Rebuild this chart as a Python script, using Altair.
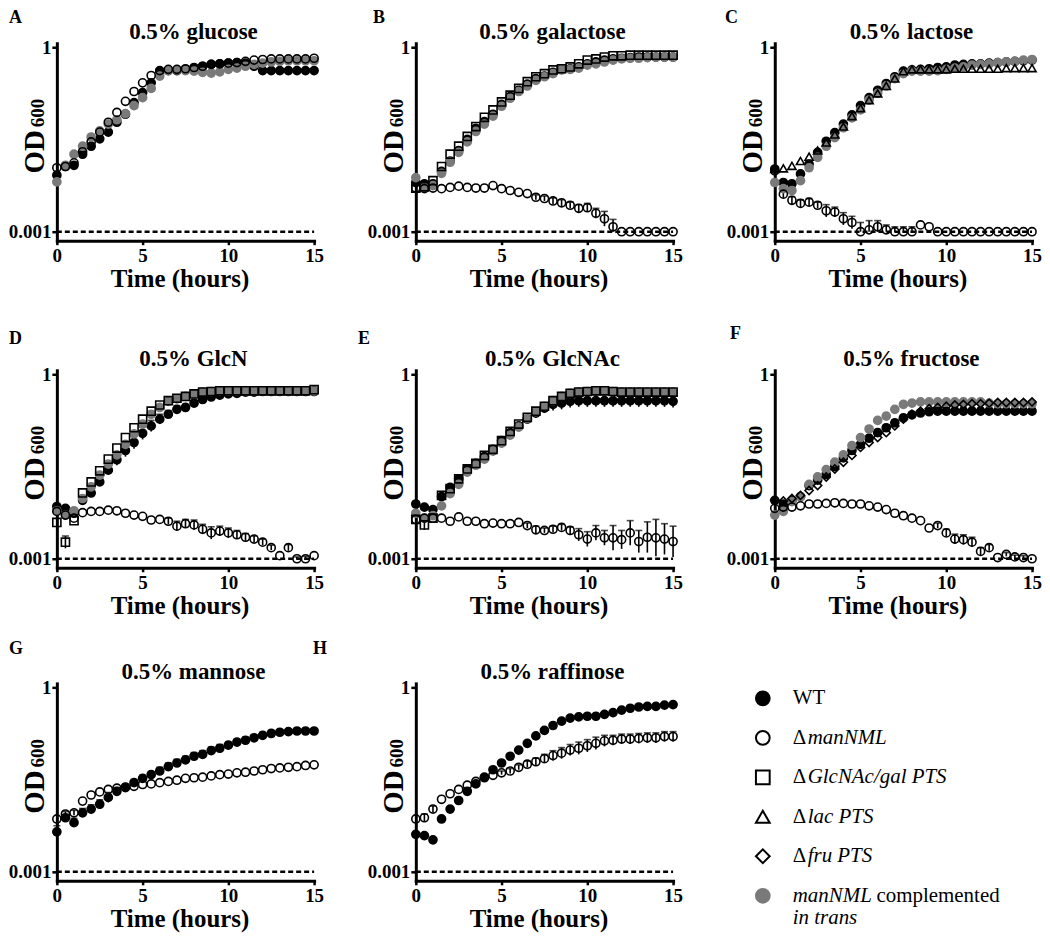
import altair as alt
import pandas as pd

FONT = "Liberation Serif"

hours = [0, 0.5, 1, 1.5, 2, 2.5, 3, 3.5, 4, 4.5, 5, 5.5, 6, 6.5, 7, 7.5,
         8, 8.5, 9, 9.5, 10, 10.5, 11, 11.5, 12, 12.5, 13, 13.5, 14, 14.5, 15]
detection_limit = 0.001
x_ticks = [0, 5, 10, 15]
y_ticks = [0.001, 1]

# ---- values, as log10(OD600) ----
# A glucose
glc_wt = [-2.08, -1.94, -1.92, -1.74, -1.61, -1.49, -1.38, -1.22, -1.09, -0.90, -0.74, -0.58, -0.39, -0.38, -0.38, -0.36,
          -0.34, -0.31, -0.28, -0.27, -0.26, -0.25, -0.26, -0.31, -0.38, -0.38, -0.38, -0.38, -0.38, -0.38, -0.38]
glc_man = [-1.96, -1.94, -1.88, -1.70, -1.54, -1.38, -1.22, -1.06, -0.88, -0.72, -0.58, -0.46, -0.38, -0.36, -0.36, -0.35,
           -0.33, -0.31, -0.28, -0.27, -0.26, -0.25, -0.23, -0.21, -0.20, -0.19, -0.19, -0.19, -0.19, -0.19, -0.18]
glc_comp = [-2.19, -1.92, -1.74, -1.61, -1.46, -1.36, -1.25, -1.18, -1.08, -0.95, -0.82, -0.67, -0.47, -0.38, -0.37, -0.38,
            -0.39, -0.41, -0.42, -0.40, -0.36, -0.34, -0.31, -0.28, -0.26, -0.24, -0.23, -0.22, -0.22, -0.22, -0.22]
# B galactose
gal_wt = [-2.20, -2.22, -2.22, -2.02, -1.85, -1.68, -1.50, -1.32, -1.21, -1.09, -0.93, -0.80, -0.70, -0.60, -0.51, -0.47,
          -0.41, -0.36, -0.35, -0.32, -0.27, -0.24, -0.21, -0.19, -0.18, -0.17, -0.16, -0.16, -0.16, -0.16, -0.16]
gal_man = [-2.29, -2.30, -2.29, -2.30, -2.28, -2.26, -2.28, -2.29, -2.29, -2.25, -2.30, -2.33, -2.36, -2.38, -2.44, -2.46,
           -2.50, -2.53, -2.57, -2.62, -2.61, -2.70, -2.79, -2.92, -3.00, -3.00, -3.00, -3.00, -3.00, -3.00, -3.00]
gal_man_err = {7: 0.04, 7.5: 0.04, 8: 0.05, 8.5: 0.05, 9: 0.05, 9.5: 0.06, 10: 0.07, 10.5: 0.08, 11: 0.12, 11.5: 0.12}
gal_gal = [-2.29, -2.27, -2.17, -1.94, -1.74, -1.61, -1.45, -1.29, -1.14, -1.02, -0.89, -0.78, -0.67, -0.56, -0.48, -0.43,
           -0.37, -0.35, -0.32, -0.27, -0.21, -0.19, -0.16, -0.14, -0.14, -0.13, -0.13, -0.13, -0.13, -0.13, -0.13]
gal_comp = [-2.12, -2.28, -2.25, -2.05, -1.87, -1.71, -1.54, -1.37, -1.25, -1.12, -0.96, -0.83, -0.72, -0.63, -0.54, -0.48,
            -0.43, -0.37, -0.36, -0.34, -0.29, -0.27, -0.24, -0.21, -0.19, -0.18, -0.18, -0.17, -0.16, -0.16, -0.16]
# C lactose
lac_wt = [-1.98, -2.20, -2.22, -2.06, -1.90, -1.71, -1.53, -1.39, -1.25, -1.10, -0.95, -0.82, -0.70, -0.59, -0.48, -0.39,
          -0.37, -0.36, -0.35, -0.33, -0.32, -0.29, -0.28, -0.27, -0.27, -0.26, -0.25, -0.24, -0.23, -0.22, -0.21]
lac_man = [-2.01, -2.39, -2.49, -2.54, -2.52, -2.57, -2.66, -2.68, -2.79, -2.85, -3.00, -2.97, -2.92, -2.97, -3.00, -3.00,
           -3.00, -2.89, -2.92, -3.00, -3.00, -3.00, -3.00, -3.00, -3.00, -3.00, -3.00, -3.00, -3.00, -3.00, -3.00]
lac_man_err = {0.5: 0.06, 1: 0.06, 1.5: 0.06, 2: 0.06, 2.5: 0.05, 3: 0.10, 3.5: 0.08, 4: 0.10, 4.5: 0.10, 5: 0.15,
               5.5: 0.15, 6: 0.10, 6.5: 0.08, 7: 0.08, 7.5: 0.08, 8: 0.08}
lac_lac = [-1.98, -1.97, -1.93, -1.85, -1.78, -1.68, -1.55, -1.42, -1.29, -1.12, -0.99, -0.86, -0.75, -0.63, -0.51, -0.39,
           -0.36, -0.36, -0.36, -0.36, -0.36, -0.35, -0.35, -0.35, -0.35, -0.35, -0.35, -0.34, -0.34, -0.34, -0.34]
lac_comp = [-2.20, -2.30, -2.33, -2.17, -1.96, -1.79, -1.61, -1.47, -1.31, -1.15, -1.02, -0.86, -0.75, -0.63, -0.51, -0.43,
            -0.39, -0.39, -0.39, -0.38, -0.36, -0.34, -0.32, -0.29, -0.28, -0.27, -0.25, -0.24, -0.23, -0.21, -0.20]
# D GlcN
glcn_wt = [-2.15, -2.18, -2.26, -2.05, -1.93, -1.75, -1.56, -1.39, -1.24, -1.11, -0.96, -0.84, -0.73, -0.65, -0.57, -0.54,
           -0.47, -0.41, -0.37, -0.34, -0.32, -0.31, -0.29, -0.29, -0.28, -0.28, -0.28, -0.28, -0.28, -0.28, -0.28]
glcn_wt_err = {2: 0.05, 2.5: 0.06, 3: 0.07, 3.5: 0.09, 4: 0.10, 4.5: 0.10, 5: 0.10, 5.5: 0.09, 6: 0.08, 6.5: 0.06,
               7: 0.06, 7.5: 0.05, 8: 0.05}
glcn_man = [-2.23, -2.29, -2.34, -2.25, -2.23, -2.23, -2.21, -2.22, -2.26, -2.29, -2.31, -2.37, -2.36, -2.39, -2.47, -2.43,
            -2.45, -2.52, -2.58, -2.55, -2.58, -2.61, -2.65, -2.68, -2.73, -2.82, -2.95, -2.82, -3.00, -3.00, -2.95]
glcn_man_err = {6.5: 0.05, 7: 0.08, 7.5: 0.07, 8: 0.08, 8.5: 0.08, 9: 0.10, 9.5: 0.08, 10: 0.08, 10.5: 0.07, 11: 0.06,
                11.5: 0.05, 12: 0.05, 12.5: 0.04, 13.5: 0.05, 14: 0.03, 14.5: 0.04}
glcn_gal = [-2.41, -2.73, -2.38, -1.93, -1.75, -1.57, -1.38, -1.20, -1.03, -0.87, -0.73, -0.60, -0.50, -0.43, -0.39, -0.36,
            -0.32, -0.29, -0.28, -0.27, -0.27, -0.27, -0.27, -0.27, -0.27, -0.27, -0.27, -0.27, -0.27, -0.27, -0.25]
glcn_gal_err = {0.5: 0.10}
glcn_comp = [-2.22, -2.29, -2.22, -2.02, -1.83, -1.64, -1.46, -1.31, -1.14, -0.97, -0.81, -0.65, -0.54, -0.44, -0.40, -0.36,
             -0.32, -0.29, -0.28, -0.27, -0.27, -0.27, -0.27, -0.27, -0.27, -0.27, -0.27, -0.27, -0.27, -0.27, -0.27]
# E GlcNAc
glcnac_wt = [-2.11, -2.16, -2.20, -1.99, -1.84, -1.70, -1.54, -1.45, -1.34, -1.22, -1.08, -0.95, -0.84, -0.73, -0.63, -0.55,
             -0.49, -0.47, -0.44, -0.43, -0.43, -0.43, -0.43, -0.43, -0.43, -0.43, -0.43, -0.43, -0.43, -0.43, -0.44]
glcnac_wt_err = {0: 0.04, 0.5: 0.03, 1: 0.04, 6.5: 0.05, 7: 0.08, 7.5: 0.08, 8: 0.10, 8.5: 0.10, 9: 0.10, 9.5: 0.10,
                 10: 0.10, 10.5: 0.10, 11: 0.10, 11.5: 0.10, 12: 0.10, 12.5: 0.10, 13: 0.10, 13.5: 0.10, 14: 0.10,
                 14.5: 0.10, 15: 0.10}
glcnac_man = [-2.36, -2.34, -2.34, -2.34, -2.39, -2.32, -2.39, -2.39, -2.43, -2.42, -2.43, -2.43, -2.41, -2.46, -2.53, -2.54,
              -2.52, -2.49, -2.54, -2.61, -2.68, -2.58, -2.66, -2.66, -2.69, -2.58, -2.72, -2.65, -2.66, -2.68, -2.72]
glcnac_man_err = {6.5: 0.04, 7: 0.06, 7.5: 0.04, 8: 0.05, 8.5: 0.05, 9: 0.06, 9.5: 0.10, 10: 0.12, 10.5: 0.12, 11: 0.12,
                  11.5: 0.20, 12: 0.15, 12.5: 0.20, 13: 0.18, 13.5: 0.25, 14: 0.30, 14.5: 0.25, 15: 0.25}
glcnac_gal = [-2.36, -2.45, -2.34, -1.97, -1.86, -1.70, -1.54, -1.45, -1.32, -1.22, -1.08, -0.93, -0.81, -0.70, -0.60, -0.52,
              -0.43, -0.36, -0.31, -0.29, -0.28, -0.27, -0.27, -0.28, -0.29, -0.29, -0.29, -0.29, -0.29, -0.29, -0.29]
glcnac_gal_err = {0.5: 0.08}
glcnac_comp = [-2.26, -2.34, -2.30, -2.14, -1.94, -1.79, -1.59, -1.48, -1.38, -1.25, -1.12, -0.99, -0.86, -0.72, -0.61, -0.52,
               -0.43, -0.36, -0.31, -0.29, -0.28, -0.27, -0.27, -0.28, -0.29, -0.29, -0.29, -0.29, -0.29, -0.29, -0.29]
glcnac_comp_err = {4.5: 0.05, 5: 0.05, 5.5: 0.05, 6: 0.05, 6.5: 0.05, 7: 0.05, 7.5: 0.05, 8: 0.05}
# F fructose
fru_wt = [-2.05, -2.11, -2.05, -1.99, -1.81, -1.72, -1.63, -1.50, -1.36, -1.24, -1.14, -1.04, -0.95, -0.87, -0.79, -0.71,
          -0.66, -0.63, -0.61, -0.60, -0.60, -0.60, -0.60, -0.60, -0.60, -0.60, -0.60, -0.60, -0.60, -0.60, -0.60]
fru_wt_err = {6: 0.05, 6.5: 0.05, 7: 0.05, 7.5: 0.05, 8: 0.05, 8.5: 0.05, 9: 0.05, 9.5: 0.05, 10: 0.05, 10.5: 0.05,
              11: 0.05, 11.5: 0.05, 12: 0.05, 12.5: 0.05, 13: 0.05, 13.5: 0.05, 14: 0.05, 14.5: 0.05, 15: 0.05}
fru_man = [-2.18, -2.16, -2.16, -2.14, -2.11, -2.11, -2.10, -2.09, -2.10, -2.11, -2.11, -2.14, -2.16, -2.20, -2.26, -2.30,
           -2.34, -2.38, -2.50, -2.46, -2.58, -2.68, -2.69, -2.73, -2.88, -2.82, -2.98, -2.93, -2.97, -2.98, -3.00]
fru_man_err = {9.5: 0.04, 10: 0.06, 10.5: 0.08, 11: 0.08, 11.5: 0.08, 12: 0.06, 12.5: 0.05, 13.5: 0.03, 14: 0.03,
               14.5: 0.03}
fru_fru = [-2.05, -2.06, -2.02, -1.97, -1.89, -1.81, -1.67, -1.54, -1.43, -1.32, -1.19, -1.11, -1.03, -0.95, -0.84, -0.73,
           -0.65, -0.60, -0.56, -0.54, -0.52, -0.50, -0.49, -0.48, -0.48, -0.47, -0.46, -0.46, -0.46, -0.46, -0.45]
fru_comp = [-2.29, -2.23, -2.07, -1.99, -1.79, -1.67, -1.55, -1.43, -1.31, -1.16, -1.03, -0.89, -0.75, -0.68, -0.57, -0.49,
            -0.47, -0.45, -0.45, -0.45, -0.45, -0.45, -0.45, -0.45, -0.45, -0.47, -0.48, -0.48, -0.48, -0.48, -0.48]
# G mannose
mnn_wt = [-2.35, -2.12, -2.20, -2.04, -1.98, -1.90, -1.79, -1.69, -1.63, -1.55, -1.48, -1.42, -1.36, -1.29, -1.23, -1.18,
          -1.12, -1.09, -1.03, -0.99, -0.94, -0.89, -0.86, -0.82, -0.78, -0.75, -0.73, -0.72, -0.71, -0.71, -0.71]
mnn_wt_err = [0.10, 0.05, 0.07, 0.07, 0.07, 0.07, 0.08, 0.06, 0.05, 0.05, 0.05, 0.05, 0.06, 0.06, 0.06, 0.06,
              0.06, 0.06, 0.06, 0.06, 0.05, 0.05, 0.05, 0.05, 0.05, 0.05, 0.04, 0.03, 0.03, 0.03, 0.03]
mnn_man = [-2.14, -2.06, -2.04, -1.85, -1.75, -1.70, -1.66, -1.64, -1.62, -1.61, -1.58, -1.57, -1.55, -1.53, -1.51, -1.48,
           -1.47, -1.46, -1.44, -1.42, -1.41, -1.39, -1.38, -1.36, -1.34, -1.32, -1.31, -1.30, -1.29, -1.27, -1.26]
mnn_man_err = {0.5: 0.04, 1: 0.04}
# H raffinose
raf_wt = [-2.39, -2.41, -2.48, -2.14, -1.98, -1.84, -1.69, -1.57, -1.46, -1.34, -1.23, -1.12, -1.02, -0.91, -0.79, -0.70,
          -0.62, -0.55, -0.50, -0.48, -0.47, -0.47, -0.44, -0.41, -0.37, -0.34, -0.32, -0.31, -0.31, -0.29, -0.28]
raf_man = [-2.14, -2.12, -1.98, -1.82, -1.73, -1.66, -1.59, -1.53, -1.47, -1.43, -1.39, -1.36, -1.30, -1.25, -1.21, -1.16,
           -1.11, -1.07, -1.02, -0.99, -0.95, -0.91, -0.87, -0.86, -0.84, -0.84, -0.83, -0.82, -0.82, -0.80, -0.80]
raf_man_err = {0.5: 0.06, 1: 0.05, 5: 0.03, 5.5: 0.04, 6: 0.04, 6.5: 0.05, 7: 0.06, 7.5: 0.07, 8: 0.08, 8.5: 0.09,
               9: 0.09, 9.5: 0.10, 10: 0.10, 10.5: 0.10, 11: 0.09, 11.5: 0.08, 12: 0.08, 12.5: 0.08, 13: 0.08,
               13.5: 0.08, 14: 0.08, 14.5: 0.08, 15: 0.08}

# ---- strains and their symbols ----
WT, MAN, GAL, LAC, FRU, COMP = ("WT", "ΔmanNML", "ΔGlcNAc/gal PTS", "Δlac PTS", "Δfru PTS",
                                "manNML complemented in trans")
strain_names = [WT, MAN, GAL, LAC, FRU, COMP]
strain_shapes = ["circle", "circle", "square", "triangle-up", "diamond", "circle"]
GRAY = "#7a7a7a"
strain_fills = ["black", "transparent", "transparent", "transparent", "transparent", GRAY]
strain_strokes = ["black", "black", "black", "black", "black", GRAY]

legend_prefix = ["", "Δ", "Δ", "Δ", "Δ", ""]
legend_italic = ["", "manNML", "GlcNAc/gal PTS", "lac PTS", "fru PTS", "manNML"]
legend_plain = ["WT", "", "", "", "", "complemented"]
legend_line2 = ["", "", "", "", "", "in trans"]

# panel letter, title, series (drawing order), letter offset
panels = [
    ("A", "0.5% glucose", [(WT, glc_wt, None), (COMP, glc_comp, None), (MAN, glc_man, None)], (-48, -20)),
    ("B", "0.5% galactose", [(WT, gal_wt, None), (COMP, gal_comp, None), (MAN, gal_man, gal_man_err),
                             (GAL, gal_gal, None)], (-43, -20)),
    ("C", "0.5% lactose", [(WT, lac_wt, None), (COMP, lac_comp, None), (MAN, lac_man, lac_man_err),
                           (LAC, lac_lac, None)], (-50, -20)),
    ("D", "0.5% GlcN", [(WT, glcn_wt, glcn_wt_err), (COMP, glcn_comp, None), (MAN, glcn_man, glcn_man_err),
                        (GAL, glcn_gal, glcn_gal_err)], (-48, -26)),
    ("E", "0.5% GlcNAc", [(WT, glcnac_wt, glcnac_wt_err), (COMP, glcnac_comp, glcnac_comp_err),
                          (MAN, glcnac_man, glcnac_man_err), (GAL, glcnac_gal, glcnac_gal_err)], (-58, -26)),
    ("F", "0.5% fructose", [(WT, fru_wt, fru_wt_err), (COMP, fru_comp, None), (MAN, fru_man, fru_man_err),
                            (FRU, fru_fru, None)], (-45, -31)),
    ("G", "0.5% mannose", [(WT, mnn_wt, mnn_wt_err), (MAN, mnn_man, mnn_man_err)], (-48, -29)),
    ("H", "0.5% raffinose", [(WT, raf_wt, None), (MAN, raf_man, raf_man_err)], (-103, -29)),
]

PW, PH = 258, 198
y_domain = [0.000715, 1.16]


def err_at(errs, i):
    if errs is None:
        return 0.0
    if isinstance(errs, dict):
        return errs.get(hours[i], 0.0)
    return errs[i]


rows = []
for key, title, series, _ in panels:
    for strain, logs, errs in series:
        for i, v in enumerate(logs):
            e = err_at(errs, i)
            rows.append(dict(panel=key, strain=strain, t=hours[i], od=10 ** v,
                             err=e, lo=10 ** max(v - e, -3.0), hi=10 ** (v + e)))
df = pd.DataFrame(rows)

shape_scale = alt.Scale(domain=strain_names, range=strain_shapes)
fill_scale = alt.Scale(domain=strain_names, range=strain_fills)
stroke_scale = alt.Scale(domain=strain_names, range=strain_strokes)
x_scale = alt.Scale(domain=[hours[0], hours[-1]], nice=False, zero=False)
y_scale = alt.Scale(type="log", domain=y_domain, nice=False)

x_axis = alt.Axis(values=x_ticks, title="Time (hours)", grid=False, domainColor="black", domainWidth=3,
                  domainCap="square", tickColor="black", tickWidth=2.5, tickSize=4, labelFont=FONT,
                  labelFontSize=19, labelFontWeight="bold", labelColor="black", labelPadding=2,
                  labelFlush=False, labelOverlap=False, titleFont=FONT, titleFontSize=25,
                  titleFontWeight="bold", titleColor="black", titleX=PW / 2 - 6, titleY=46,
                  titleBaseline="alphabetic")
y_axis = alt.Axis(values=y_ticks, title=None, grid=False, domainColor="black", domainWidth=3,
                  domainCap="square", tickColor="black", tickWidth=2.5, tickSize=5, labelFont=FONT,
                  labelFontSize=19, labelFontWeight="bold", labelColor="black", labelPadding=1,
                  labelFlush=False, labelOverlap=False,
                  labelExpr="datum.value >= 1 ? '1' : '0.001'")


def make_panel(key, title, offset):
    d = df[df.panel == key]
    e = d[d.err > 0]
    X = alt.X("t:Q", scale=x_scale, axis=x_axis)
    lod = pd.DataFrame({"t0": [hours[0]], "t1": [hours[-1]], "lod": [detection_limit]})
    dash = alt.Chart(lod).mark_rule(strokeDash=[5, 3], strokeWidth=2.5, color="black").encode(
        x=alt.X("t0:Q", scale=x_scale, axis=x_axis), x2="t1:Q",
        y=alt.Y("lod:Q", scale=y_scale, axis=y_axis))
    bars = alt.Chart(e).mark_rule(strokeWidth=1.6).encode(
        x=X, y=alt.Y("lo:Q", scale=y_scale, axis=y_axis), y2="hi:Q",
        color=alt.Color("strain:N", scale=stroke_scale, legend=None))
    cap_hi = alt.Chart(e).mark_tick(orient="horizontal", size=7, thickness=1.6).encode(
        x=X, y=alt.Y("hi:Q", scale=y_scale, axis=y_axis),
        color=alt.Color("strain:N", scale=stroke_scale, legend=None))
    pts = alt.Chart(d).mark_point(size=66, strokeWidth=1.6, opacity=1, fillOpacity=1).encode(
        x=X, y=alt.Y("od:Q", scale=y_scale, axis=y_axis),
        shape=alt.Shape("strain:N", scale=shape_scale, legend=None),
        fill=alt.Fill("strain:N", scale=fill_scale, legend=None),
        stroke=alt.Stroke("strain:N", scale=stroke_scale, legend=None))
    lab = pd.DataFrame({"letter": [key], "title": [title], "od": ["OD"], "sub": ["600"]})
    letter = alt.Chart(lab).mark_text(font=FONT, fontSize=18, fontWeight="bold", align="left",
                                      baseline="alphabetic", color="black").encode(
        text="letter:N", x=alt.value(offset[0]), y=alt.value(offset[1]))
    ttl = alt.Chart(lab).mark_text(font=FONT, fontSize=23, fontWeight="bold", align="center",
                                   baseline="alphabetic", color="black").encode(
        text="title:N", x=alt.value(PW / 2 + 8), y=alt.value(-4))
    od = alt.Chart(lab).mark_text(font=FONT, fontSize=29, fontWeight="bold", angle=270, align="center",
                                  baseline="alphabetic", color="black").encode(
        text="od:N", x=alt.value(-13), y=alt.value(109))
    sub = alt.Chart(lab).mark_text(font=FONT, fontSize=19, fontWeight="bold", angle=270, align="center",
                                   baseline="alphabetic", color="black").encode(
        text="sub:N", x=alt.value(-13), y=alt.value(70))
    return alt.layer(dash, bars, cap_hi, pts, letter, ttl, od, sub).properties(width=PW, height=PH)


charts = [make_panel(k, t, off) for k, t, _, off in panels]

# ---- legend panel ----
leg = pd.DataFrame({"strain": strain_names, "prefix": legend_prefix, "italic": legend_italic,
                    "plain": legend_plain, "line2": legend_line2})
leg_y = alt.Y("strain:N", scale=alt.Scale(domain=strain_names, range=[15, 213], padding=0), axis=None)
leg_base = alt.Chart(leg)
leg_pts = leg_base.mark_point(size=190, strokeWidth=2, opacity=1, fillOpacity=1).encode(
    y=leg_y, x=alt.value(-12),
    shape=alt.Shape("strain:N", scale=shape_scale, legend=None),
    fill=alt.Fill("strain:N", scale=fill_scale, legend=None),
    stroke=alt.Stroke("strain:N", scale=stroke_scale, legend=None))
tkw = dict(font=FONT, fontSize=21, align="left", baseline="middle", color="black")
leg_prefix = leg_base.transform_filter("datum.prefix != ''").mark_text(**tkw).encode(
    y=leg_y, x=alt.value(18), text="prefix:N")
leg_ital_d = leg_base.transform_filter("datum.prefix != ''").mark_text(fontStyle="italic", dx=15, **tkw).encode(
    y=leg_y, x=alt.value(18), text="italic:N")
leg_ital_n = leg_base.transform_filter("datum.prefix == '' && datum.italic != ''").mark_text(
    fontStyle="italic", **tkw).encode(y=leg_y, x=alt.value(18), text="italic:N")
leg_plain_a = leg_base.transform_filter("datum.italic == ''").mark_text(**tkw).encode(
    y=leg_y, x=alt.value(18), text="plain:N")
leg_plain_b = leg_base.transform_filter("datum.italic != '' && datum.plain != ''").mark_text(dx=84, **tkw).encode(
    y=leg_y, x=alt.value(18), text="plain:N")
leg_line2 = leg_base.transform_filter("datum.line2 != ''").mark_text(fontStyle="italic", dy=22, **tkw).encode(
    y=leg_y, x=alt.value(18), text="line2:N")
legend = alt.layer(leg_pts, leg_prefix, leg_ital_d, leg_ital_n, leg_plain_a, leg_plain_b, leg_line2).properties(
    width=PW, height=PH)

row1 = alt.hconcat(charts[0], charts[1], charts[2], spacing=102, bounds="flush")
row2 = alt.hconcat(charts[3], charts[4], charts[5], spacing=102, bounds="flush")
row3 = alt.hconcat(charts[6], charts[7], legend, spacing=102, bounds="flush")

chart = alt.vconcat(alt.vconcat(row1, row2, spacing=34), row3, spacing=22).properties(
    padding=0, background="white").configure_view(strokeWidth=0)

chart.save("out.html", embed_options={"renderer": "svg", "actions": False})
